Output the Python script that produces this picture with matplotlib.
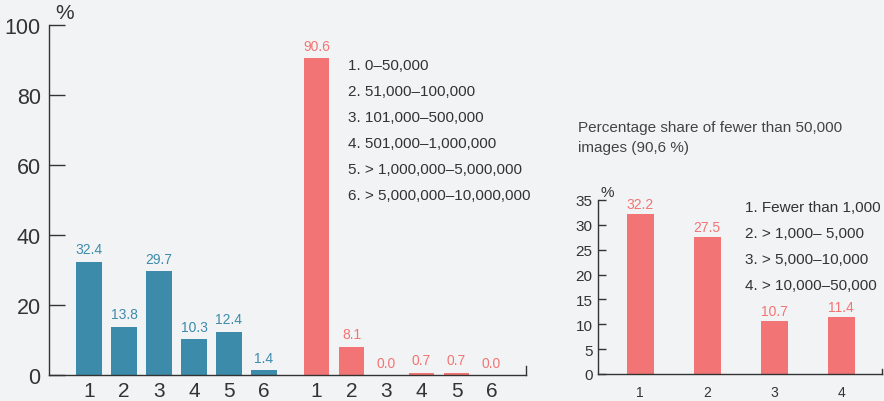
import matplotlib.pyplot as plt
import numpy as np

plt.rcParams['font.family'] = ['Liberation Sans', 'DejaVu Sans']

# image collection sizes, share of archives in %
groups = ['1', '2', '3', '4', '5', '6']
blue_values = [32.4, 13.8, 29.7, 10.3, 12.4, 1.4]
red_values = [90.6, 8.1, 0.0, 0.7, 0.7, 0.0]
size_classes = ['1. 0\u201350,000', '2. 51,000\u2013100,000', '3. 101,000\u2013500,000',
                '4. 501,000\u20131,000,000', '5. > 1,000,000\u20135,000,000',
                '6. > 5,000,000\u201310,000,000']

# breakdown of the 0-50,000 class
sub_labels = ['1', '2', '3', '4']
sub_values = [32.2, 27.5, 10.7, 11.4]
sub_classes = ['1. Fewer than 1,000', '2. > 1,000\u2013 5,000',
               '3. > 5,000\u201310,000', '4. > 10,000\u201350,000']

bg = '#f2f3f5'
blue = '#3d8bab'
red = '#f27474'
dark = '#333333'

fig = plt.figure(figsize=(8.84, 4.02), dpi=100, facecolor=bg)

# left panel
ax = fig.add_axes([0.0554, 0.0647, 0.5396, 0.8706], facecolor=bg)
xb = np.arange(len(blue_values))
xr = np.arange(len(red_values)) + 6.5
ax.bar(xb, blue_values, width=0.74, color=blue)
ax.bar(xr, red_values, width=0.74, color=red)
for x, v in zip(xb, blue_values):
    ax.text(x, v + 1.5, '{:.1f}'.format(v), ha='center', va='bottom', fontsize=10, color=blue)
for x, v in zip(xr, red_values):
    ax.text(x, v + 1.5, '{:.1f}'.format(v), ha='center', va='bottom', fontsize=10, color=red)
ax.set_xlim(-1.143, 12.486)
ax.set_ylim(0, 100)
ax.set_xticks(np.concatenate([xb, xr]))
ax.set_xticklabels(groups + groups)
ax.set_yticks([0, 20, 40, 60, 80, 100])
ax.tick_params(axis='y', direction='in', length=11.5, width=1, colors=dark, labelsize=15.5, pad=6)
ax.tick_params(axis='x', length=0, labelsize=15, labelcolor=dark, pad=4)
ax.spines['top'].set_visible(False)
ax.spines['right'].set_bounds(0, 2.6)
for s in ['left', 'bottom', 'right']:
    ax.spines[s].set_color(dark)
    ax.spines[s].set_linewidth(1)
ax.text(-0.95, 101, '%', fontsize=15, color=dark, ha='left', va='bottom')
for i, lab in enumerate(size_classes):
    ax.text(7.4, 88.5 - i * 7.4, lab, fontsize=11, color=dark, ha='left', va='center')

# right panel
ax2 = fig.add_axes([0.6765, 0.0672, 0.3212, 0.4328], facecolor=bg)
xs = np.arange(1, len(sub_values) + 1)
ax2.bar(xs, sub_values, width=0.4, color=red)
for x, v in zip(xs, sub_values):
    ax2.text(x, v + 0.6, '{:.1f}'.format(v), ha='center', va='bottom', fontsize=10, color=red)
ax2.set_xlim(0.37, 4.61)
ax2.set_ylim(0, 35)
ax2.set_xticks(xs)
ax2.set_xticklabels(sub_labels)
ax2.set_yticks(range(0, 36, 5))
ax2.tick_params(axis='y', direction='in', length=6, width=1, colors=dark, labelsize=11, pad=4)
ax2.tick_params(axis='x', length=0, labelsize=10, labelcolor=dark, pad=8)
ax2.spines['top'].set_visible(False)
ax2.spines['right'].set_bounds(0, 1)
for s in ['left', 'bottom', 'right']:
    ax2.spines[s].set_color(dark)
    ax2.spines[s].set_linewidth(1)
ax2.text(0.4, 35.3, '%', fontsize=11, color=dark, ha='left', va='bottom')
for i, lab in enumerate(sub_classes):
    ax2.text(2.565, 33.6 - i * 5.2, lab, fontsize=11, color=dark, ha='left', va='center')

fig.text(578 / 884, 1 - 138 / 402, 'Percentage share of fewer than 50,000\nimages (90,6 %)',
         fontsize=11, color='#444444', ha='left', va='center', linespacing=1.5)

fig.savefig('out.png', dpi=100, facecolor=bg)
